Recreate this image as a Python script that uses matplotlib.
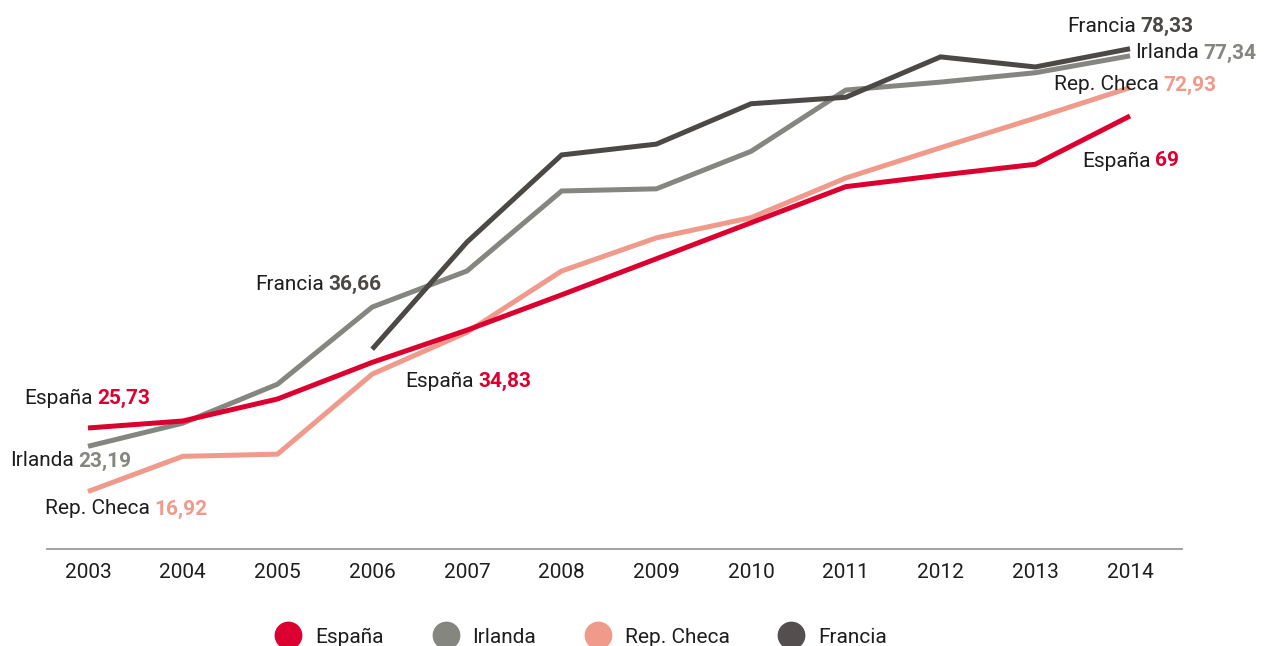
import matplotlib
matplotlib.use("Agg")
import matplotlib.pyplot as plt
from matplotlib.lines import Line2D

plt.rcParams["font.family"] = ["Roboto", "DejaVu Sans"]

# ====================== datos ======================
years = [2003, 2004, 2005, 2006, 2007, 2008, 2009, 2010, 2011, 2012, 2013, 2014]
espana = [25.73, 26.7, 29.75, 34.83, 39.3, 44.2, 49.2, 54.2, 59.2, 60.8, 62.3, 69.0]
irlanda = [23.19, 26.4, 31.8, 42.5, 47.5, 58.6, 58.9, 64.1, 72.6, 73.7, 75.0, 77.34]
checa = [16.92, 21.8, 22.1, 33.2, 39.0, 47.5, 52.1, 54.9, 60.4, 64.6, 68.7, 72.93]
francia_years = [2006, 2007, 2008, 2009, 2010, 2011, 2012, 2013, 2014]
francia = [36.66, 51.5, 63.6, 65.1, 70.7, 71.6, 77.2, 75.8, 78.33]
# ===================================================

C_ES = "#dc0030"
C_IR = "#858680"
C_CZ = "#ef9a8a"
C_FR = "#4b4846"
C_TXT = "#1e1e1e"
FS = 15

fig = plt.figure(figsize=(12.65, 6.46), dpi=100)
ax = fig.add_axes([47 / 1265, 97 / 646, 1135 / 1265, 529 / 646])

ax.plot(years, checa, color=C_CZ, lw=3.6, solid_capstyle="butt", solid_joinstyle="miter")
ax.plot(years, irlanda, color=C_IR, lw=3.6, solid_capstyle="butt", solid_joinstyle="miter")
ax.plot(years, espana, color=C_ES, lw=3.6, solid_capstyle="butt", solid_joinstyle="miter")
ax.plot(francia_years, francia, color=C_FR, lw=3.6, solid_capstyle="butt", solid_joinstyle="miter")

# escalas: 2003 -> px 88, 2014 -> px 1130 ; 25.73 -> px 428, 69 -> px 116
px_year = (1130 - 88) / 11
px_val = (428 - 116) / (69 - 25.73)
ax.set_xlim(2003 - (88 - 47) / px_year, 2014 + (1182 - 1130) / px_year)
ax.set_ylim(25.73 - (549 - 428) / px_val, 25.73 + (428 - 20) / px_val)


def px2data(px, py):
    return 2003 + (px - 88) / px_year, 25.73 + (428 - py) / px_val


def label(px, py, name, value, color):
    x, y = px2data(px, py)
    t = ax.text(x, y, name, fontsize=FS, color=C_TXT, ha="left", va="center")
    ax.annotate(value, xy=(1, y), xycoords=(t, "data"), xytext=(3.5, 0),
                textcoords="offset points", fontsize=FS, fontweight="bold",
                color=color, ha="left", va="center")


label(24, 398, "España", "25,73", C_ES)
label(10, 461, "Irlanda", "23,19", C_IR)
label(45, 509, "Rep. Checa", "16,92", C_CZ)
label(255, 284, "Francia", "36,66", C_FR)
label(405, 381, "España", "34,83", C_ES)
label(1067, 26, "Francia", "78,33", C_FR)
label(1135, 53, "Irlanda", "77,34", C_IR)
label(1054, 85, "Rep. Checa", "72,93", C_CZ)
label(1082, 161, "España", "69", C_ES)

for s in ["top", "right", "left"]:
    ax.spines[s].set_visible(False)
ax.spines["bottom"].set_color("#9a9a9a")
ax.spines["bottom"].set_linewidth(1.3)
ax.set_yticks([])
ax.set_xticks(years)
ax.set_xticklabels([str(y) for y in years])
ax.tick_params(axis="x", length=0, pad=10, labelsize=FS, labelcolor=C_TXT)

handles = [
    Line2D([], [], ls="none", marker="o", ms=19, color=C_ES),
    Line2D([], [], ls="none", marker="o", ms=19, color=C_IR),
    Line2D([], [], ls="none", marker="o", ms=19, color=C_CZ),
    Line2D([], [], ls="none", marker="o", ms=19, color="#544e4f"),
]
fig.legend(handles, ["España", "Irlanda", "Rep. Checa", "Francia"], loc="center",
           bbox_to_anchor=(581 / 1265, 9 / 646), ncol=4, frameon=False,
           fontsize=FS, handlelength=1.3, handletextpad=0.65, columnspacing=2.3,
           labelcolor=C_TXT)

fig.savefig("out.png", dpi=100)
